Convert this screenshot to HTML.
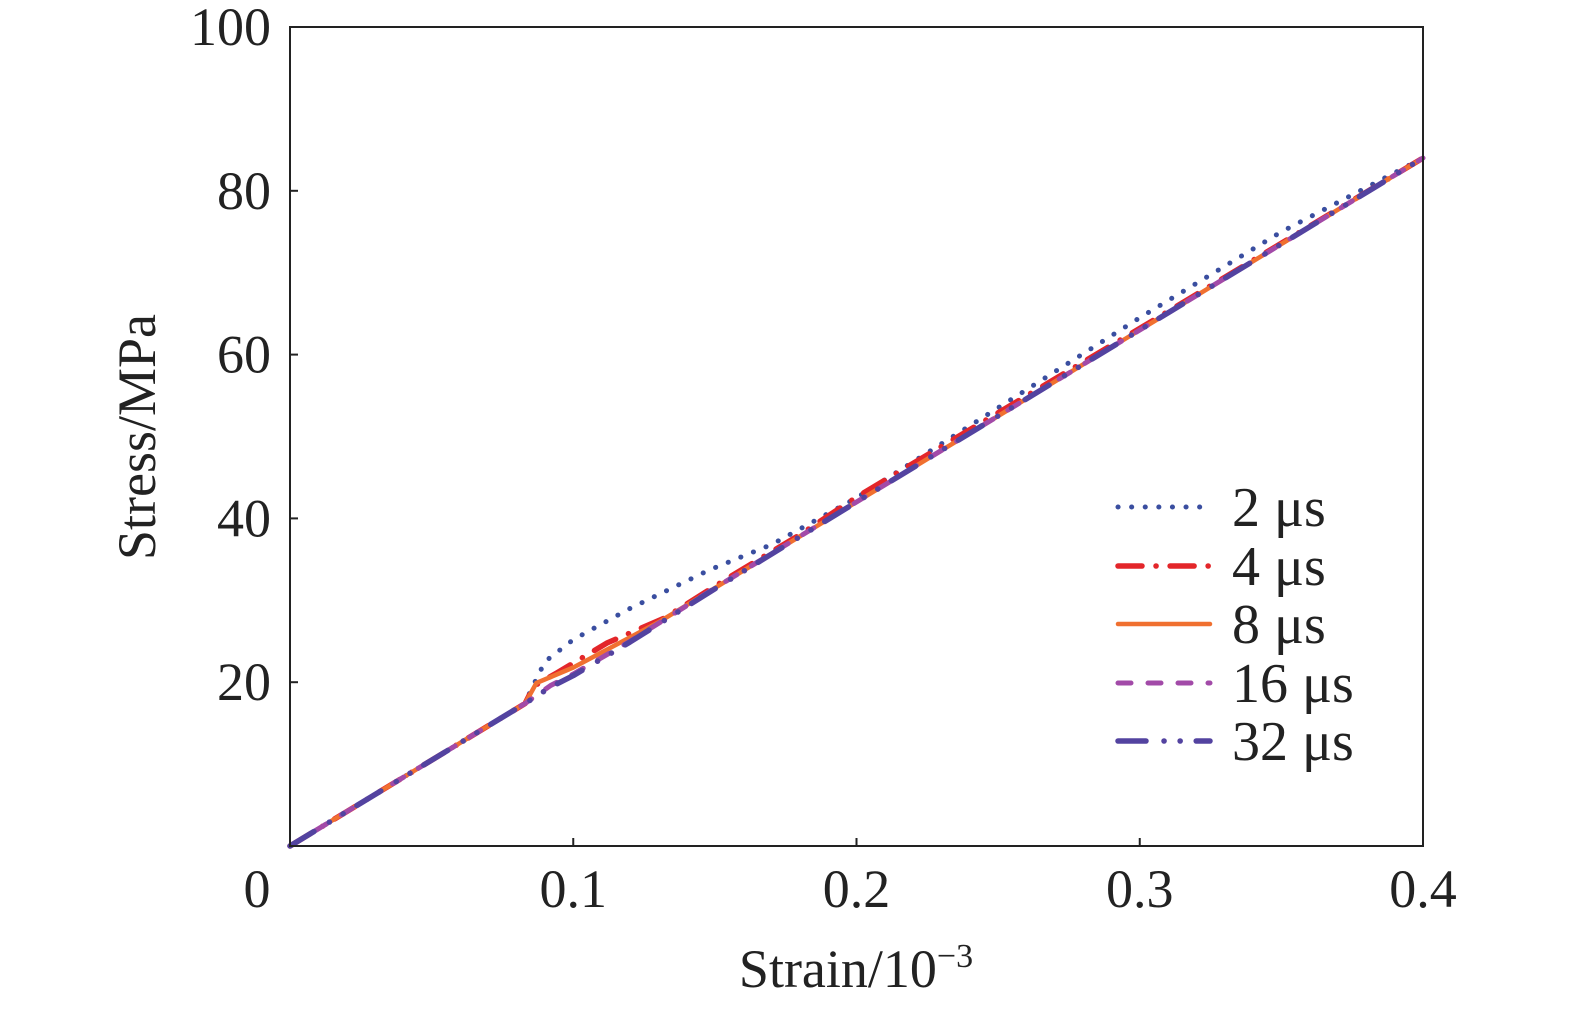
<!DOCTYPE html>
<html><head><meta charset="utf-8"><style>
body{margin:0;background:#fff}
svg text{font-family:"Liberation Serif",serif;fill:#222}
</style></head><body>
<svg id="c" width="1575" height="1008" viewBox="0 0 1575 1008" xmlns="http://www.w3.org/2000/svg">
<g id="plot"></g>
</svg>
<script>
const xTicks=[0.1,0.2,0.3,0.4];
const xTickLabels=["0.1","0.2","0.3","0.4"];
const yTicks=[20,40,60,80,100];
const yTickLabels=["20","40","60","80","100"];
const seriesNames=["2 μs","4 μs","8 μs","16 μs","32 μs"];
const strain2=[0,0.083,0.085,0.09,0.1,0.12,0.148,0.17,0.2,0.25,0.3,0.35,0.4];
const stress2=[0,17.4,19,22.5,25.2,29,33.7,36.8,42.5,53.5,64.5,75,84];
const strain4=[0,0.083,0.086,0.094,0.112,0.132,0.155,0.18,0.2,0.3,0.4];
const stress4=[0,17.4,19.5,21.1,24.8,27.8,32.8,38,42.6,63.2,84];
const strain8=[0,0.083,0.087,0.1,0.13,0.15,0.2,0.3,0.4];
const stress8=[0,17.4,19.9,21.8,27.3,31.5,42,63,84];
const strain16=[0,0.083,0.092,0.1,0.12,0.15,0.2,0.3,0.4];
const stress16=[0,17.4,19.6,21,25,31.5,42,63,84];
const strain32=[0,0.083,0.092,0.1,0.12,0.15,0.2,0.3,0.4];
const stress32=[0,17.4,19.4,20.8,24.9,31.4,42,63,84];

const X0=290,X1=1423,Y0=846,Y1=27;
const sx=v=>X0+(v/0.4)*(X1-X0);
const sy=v=>Y0-(v/100)*(Y0-Y1);
const NS="http://www.w3.org/2000/svg";
const g=document.getElementById('plot');
function mk(t,a,p){const e=document.createElementNS(NS,t);for(const k in a)e.setAttribute(k,a[k]);(p||g).appendChild(e);return e;}

const styles=[
 {c:"#3a4ea0",d:"0.1 13.5",w:5},
 {c:"#e3262a",d:"24 14 0.1 14",w:5.5},
 {c:"#f07030",d:"",w:4.5},
 {c:"#a24aa8",d:"13 17",w:5},
 {c:"#5343a0",d:"28 18 0.1 16 0.1 16",w:5.5}
];
const sets=[[strain2,stress2],[strain4,stress4],[strain8,stress8],[strain16,stress16],[strain32,stress32]];
sets.forEach((s,i)=>{
  const pts=s[0].map((x,j)=>sx(x).toFixed(1)+","+sy(s[1][j]).toFixed(1)).join(" ");
  const pl=mk('polyline',{points:pts,fill:"none",stroke:styles[i].c,"stroke-width":styles[i].w,"stroke-linecap":"round","stroke-linejoin":"round"});
  if(styles[i].d)pl.setAttribute('stroke-dasharray',styles[i].d);
  
  
});

const frame=mk('rect',{x:X0,y:Y1,width:X1-X0,height:Y0-Y1,fill:"none",stroke:"#222","stroke-width":2});



xTicks.forEach((v,i)=>{
  const t=mk('line',{x1:sx(v),x2:sx(v),y1:Y0,y2:Y0-8,stroke:"#222","stroke-width":2});
  
  
  const l=mk('text',{x:sx(v),y:907,"font-size":54,"text-anchor":"middle"});
  l.textContent=xTickLabels[i];
  
  
});
const z=mk('text',{x:257,y:907,"font-size":54,"text-anchor":"middle"});z.textContent="0";


yTicks.forEach((v,i)=>{
  const t=mk('line',{x1:X0,x2:X0+8,y1:sy(v),y2:sy(v),stroke:"#222","stroke-width":2});
  
  
  const l=mk('text',{x:271,y:sy(v)+18,"font-size":54,"text-anchor":"end"});
  l.textContent=yTickLabels[i];
  
  
});
const xt=mk('text',{x:856,y:987,"font-size":54,"text-anchor":"middle"});
xt.innerHTML='Strain/10<tspan dy="-20" font-size="34">−3</tspan>';


const yt=mk('text',{x:0,y:0,"font-size":54,"text-anchor":"middle",transform:"translate(155,437) rotate(-90)"});
yt.textContent="Stress/MPa";



const lg=mk('g',{});


const rows=[507,566,624,683,741];
seriesNames.forEach((n,i)=>{
  const e=mk('g',{},lg);
  
  
  const ln=mk('line',{x1:1118,x2:1210,y1:rows[i],y2:rows[i],stroke:styles[i].c,"stroke-width":styles[i].w,"stroke-linecap":"round"},e);
  if(styles[i].d)ln.setAttribute('stroke-dasharray',styles[i].d);
  
  
  const t=mk('text',{x:1232,y:rows[i]+19,"font-size":56},e);
  t.textContent=n;
  
  
});
</script>
</body></html>
